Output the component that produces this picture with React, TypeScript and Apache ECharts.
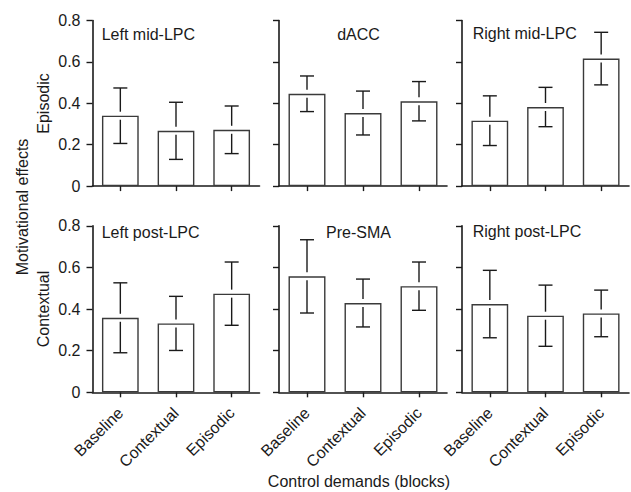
import React, { useEffect, useRef } from "react";
import * as echarts from "echarts";

const categories = ["Baseline", "Contextual", "Episodic"];
const yTicks = [0, 0.2, 0.4, 0.6, 0.8];

const panelTitles = [
  "Left mid-LPC", "dACC", "Right mid-LPC",
  "Left post-LPC", "Pre-SMA", "Right post-LPC",
];

const leftMidMean = [0.34, 0.267, 0.272];
const leftMidErr = [0.134, 0.138, 0.115];
const dACCMean = [0.446, 0.353, 0.41];
const dACCErr = [0.086, 0.106, 0.095];
const rightMidMean = [0.316, 0.382, 0.616];
const rightMidErr = [0.12, 0.095, 0.127];
const leftPostMean = [0.358, 0.331, 0.474];
const leftPostErr = [0.168, 0.13, 0.152];
const preSMAMean = [0.557, 0.429, 0.51];
const preSMAErr = [0.176, 0.115, 0.116];
const rightPostMean = [0.424, 0.368, 0.379];
const rightPostErr = [0.162, 0.147, 0.112];

const means = [leftMidMean, dACCMean, rightMidMean, leftPostMean, preSMAMean, rightPostMean];
const errs = [leftMidErr, dACCErr, rightMidErr, leftPostErr, preSMAErr, rightPostErr];

const FONT = '"Liberation Sans", Arial, Helvetica, sans-serif';
const INK = "#1a1a1a";

export default function App() {
  const ref = useRef<HTMLDivElement>(null);

  useEffect(() => {
    if (!ref.current) return;
    const chart = echarts.init(ref.current, undefined, { renderer: "svg" });

    const colLeft = [92.5, 279, 462];
    const colWidth = [167, 168, 167];
    const rowTop = [20.5, 225.8];
    const rowHeight = [165.6, 166.5];

    const grids: any[] = [];
    const xAxes: any[] = [];
    const yAxes: any[] = [];
    const series: any[] = [];

    for (let i = 0; i < 6; i++) {
      const r = Math.floor(i / 3);
      const c = i % 3;
      grids.push({
        left: colLeft[c],
        top: rowTop[r],
        width: colWidth[c],
        height: rowHeight[r],
        containLabel: false,
      });
      xAxes.push({
        type: "category",
        gridIndex: i,
        data: categories,
        axisLine: { show: true, lineStyle: { color: INK, width: 1.6 } },
        axisTick: { show: true, alignWithLabel: true, length: 5, lineStyle: { color: INK, width: 1.4 } },
        axisLabel: {
          show: r === 1,
          rotate: 45,
          margin: 18,
          color: INK,
          fontSize: 16,
          fontFamily: FONT,
        },
        splitLine: { show: false },
      });
      yAxes.push({
        type: "value",
        gridIndex: i,
        min: yTicks[0],
        max: yTicks[yTicks.length - 1],
        interval: 0.2,
        axisLine: { show: true, lineStyle: { color: INK, width: 1.6 } },
        axisTick: { show: true, length: 6, lineStyle: { color: INK, width: 1.4 } },
        axisLabel: {
          show: c === 0,
          margin: 12,
          color: INK,
          fontSize: 16,
          fontFamily: FONT,
          formatter: (v: number) => (v === 0 ? "0" : v.toFixed(1)),
        },
        splitLine: { show: false },
      });
      series.push({
        type: "bar",
        xAxisIndex: i,
        yAxisIndex: i,
        data: means[i],
        barWidth: "66%",
        itemStyle: { color: "#ffffff", borderColor: "#3a3a3a", borderWidth: 1.4 },
        z: 2,
        silent: true,
      });
      const errData = means[i].map((m, k) => [k, m, m + errs[i][k], m - errs[i][k]]);
      series.push({
        type: "custom",
        xAxisIndex: i,
        yAxisIndex: i,
        data: errData,
        z: 3,
        silent: true,
        renderItem: (params: any, api: any) => {
          const k = api.value(0);
          const pm = api.coord([k, api.value(1)]);
          const pu = api.coord([k, api.value(2)]);
          const pl = api.coord([k, api.value(3)]);
          const x = pm[0];
          const cap = 7;
          const gap = 4;
          const style = { stroke: INK, lineWidth: 1.4 };
          return {
            type: "group",
            children: [
              { type: "line", shape: { x1: x, y1: pu[1], x2: x, y2: pm[1] - gap }, style },
              { type: "line", shape: { x1: x, y1: pm[1] + gap, x2: x, y2: pl[1] }, style },
              { type: "line", shape: { x1: x - cap, y1: pu[1], x2: x + cap, y2: pu[1] }, style },
              { type: "line", shape: { x1: x - cap, y1: pl[1], x2: x + cap, y2: pl[1] }, style },
            ],
          };
        },
      });
    }

    const titlePos = [
      { x: 101.7, y: 34, align: "left" },
      { x: 358.5, y: 34, align: "center" },
      { x: 472.7, y: 33, align: "left" },
      { x: 101.7, y: 232.3, align: "left" },
      { x: 358.5, y: 232, align: "center" },
      { x: 472.7, y: 231.7, align: "left" },
    ];

    const graphics: any[] = panelTitles.map((t, i) => ({
      type: "text",
      x: titlePos[i].x,
      y: titlePos[i].y,
      silent: true,
      style: {
        text: t,
        fill: INK,
        font: `16px ${FONT}`,
        align: titlePos[i].align,
        verticalAlign: "middle",
      },
    }));

    graphics.push(
      {
        type: "text",
        x: 43,
        y: 103.5,
        rotation: Math.PI / 2,
        silent: true,
        style: { text: "Episodic", fill: INK, font: `16px ${FONT}`, align: "center", verticalAlign: "middle" },
      },
      {
        type: "text",
        x: 43,
        y: 309,
        rotation: Math.PI / 2,
        silent: true,
        style: { text: "Contextual", fill: INK, font: `16px ${FONT}`, align: "center", verticalAlign: "middle" },
      },
      {
        type: "text",
        x: 22,
        y: 207,
        rotation: Math.PI / 2,
        silent: true,
        style: { text: "Motivational effects", fill: INK, font: `16px ${FONT}`, align: "center", verticalAlign: "middle" },
      },
      {
        type: "text",
        x: 359,
        y: 481,
        silent: true,
        style: { text: "Control demands (blocks)", fill: INK, font: `16px ${FONT}`, align: "center", verticalAlign: "middle" },
      }
    );

    chart.setOption({
      animation: false,
      backgroundColor: "#ffffff",
      textStyle: { fontFamily: FONT },
      grid: grids,
      xAxis: xAxes,
      yAxis: yAxes,
      series,
      graphic: graphics,
    });

    return () => chart.dispose();
  }, []);

  return (
    <div
      ref={ref}
      style={{ position: "fixed", left: 0, top: 0, width: 631, height: 492 }}
    />
  );
}
